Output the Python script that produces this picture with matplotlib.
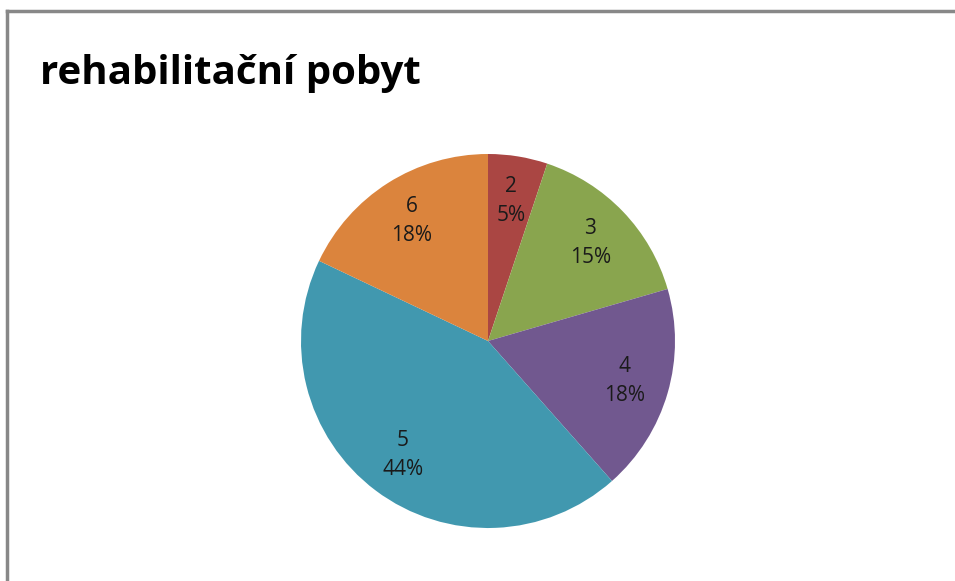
import matplotlib
matplotlib.use("Agg")
from matplotlib import pyplot as plt
from matplotlib.lines import Line2D

labels = ['2', '3', '4', '5', '6']
counts = [2, 6, 7, 17, 7]
colors = ['#AA4643', '#89A54E', '#71588F', '#4198AF', '#DB843D']

plt.rcParams['font.family'] = ['Open Sans', 'DejaVu Sans']

fig = plt.figure(figsize=(9.55, 5.81), dpi=100, facecolor='white')

# chart frame (cut off at right and bottom)
fig.add_artist(Line2D([7/955, 7/955], [0, 1 - 11/581], color='#888888', lw=2.5))
fig.add_artist(Line2D([7/955, 1], [1 - 11/581, 1 - 11/581], color='#888888', lw=2.5))

fig.text(40/955, 1 - 84/581, 'rehabilitační pobyt', fontsize=29, fontweight='bold',
         ha='left', va='baseline')

total = sum(counts)
pie_labels = [f'{l}\n{round(100 * c / total)}%' for l, c in zip(labels, counts)]

r = 187
cx, cy = 488, 341
ax = fig.add_axes([(cx - r)/955, 1 - (cy + r)/581, 2*r/955, 2*r/581])
wedges, texts = ax.pie(counts, colors=colors, startangle=90, counterclock=False,
                       labels=pie_labels, labeldistance=0.76,
                       wedgeprops=dict(linewidth=0),
                       textprops=dict(fontsize=15, ha='center', va='center', linespacing=1.5,
                                      color='#1a1a1a'))
ax.set_aspect('equal')
ax.set_xlim(-1, 1)
ax.set_ylim(-1, 1)

plt.savefig('out.png', dpi=100)
